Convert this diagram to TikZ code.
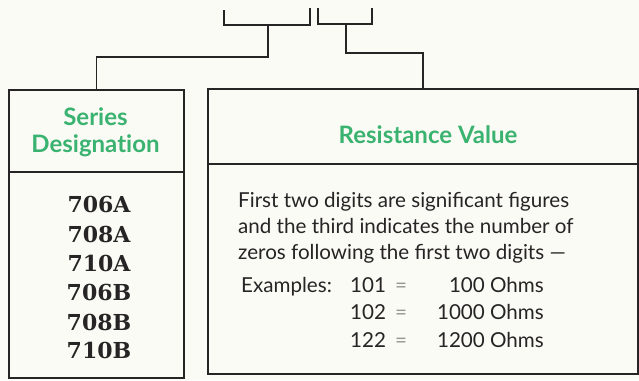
\documentclass[tikz,border=0pt]{standalone}
\usepackage{fontspec}
\setmainfont{DejaVu Serif}
\newfontfamily\headfont[Ligatures=NoCommon]{Lato}
\newfontfamily\bodyfont{Lato}
\definecolor{paper}{RGB}{251,251,245}
\definecolor{ink}{RGB}{38,36,36}
\definecolor{eqgray}{RGB}{150,150,145}
\definecolor{headgreen}{RGB}{58,178,112}
\tikzset{
  box/.style={draw=ink, line width=1.8pt, rectangle, inner sep=0pt, anchor=north west},
  wire/.style={draw=ink, line width=1.8pt},
  headtxt/.style={text=headgreen, font=\headfont\bfseries\fontsize{24}{28}\selectfont, inner sep=0pt, anchor=base},
  codetxt/.style={text=ink, font=\bfseries\fontsize{22}{26}\selectfont, inner sep=0pt, anchor=base},
  bodytxt/.style={text=ink, font=\bodyfont\fontsize{20.6}{24}\selectfont, inner sep=0pt, anchor=base west}
}
\begin{document}
\begin{tikzpicture}[x=1pt,y=-1pt]
\useasboundingbox (0,0) rectangle (639,380);
\fill[paper] (0,0) rectangle (639,380);
% boxes
\node[box, minimum width=175pt, minimum height=82pt] (lhead) at (8,89) {};
\node[box, minimum width=175pt, minimum height=206pt] (lbody) at (8,171) {};
\node[box, minimum width=430pt, minimum height=75pt] (rhead) at (207,88) {};
\node[box, minimum width=430pt, minimum height=210pt] (rbody) at (207,163) {};
% brackets
\coordinate (la) at (224,10);
\coordinate (lb) at (310,8);
\coordinate (ra) at (318,8);
\coordinate (rb) at (372,8);
\draw[wire] (la) -- (224,25) -- (310,25) -- (lb);
\draw[wire] (ra) -- (318,24) -- (372,24) -- (rb);
\coordinate (ls) at (268,25);
\coordinate (rs) at (346,24);
\draw[wire] (ls) -- (268,57) -| (lhead.north);
\draw[wire] (rs) -- (346,53) -| (rhead.north);
% headings
\node[headtxt] (s1) at (95.5,125) {Series};
\node[headtxt] (s2) at (95.5,152) {Designation};
\node[headtxt] (rv) at (428,143) {Resistance Value};
% codes
\node[codetxt] (c1) at (99,212) {706A};
\node[codetxt] (c2) at (99,242) {708A};
\node[codetxt] (c3) at (99,271) {710A};
\node[codetxt] (c4) at (99,300) {706B};
\node[codetxt] (c5) at (99,330) {708B};
\node[codetxt] (c6) at (99,358) {710B};
% body
\node[bodytxt] (b1) at (238,207) {First two digits are significant figures};
\node[bodytxt] (b2) at (238,233) {and the third indicates the number of};
\node[bodytxt] (b3) at (238,259) {zeros following the first two digits —};
\node[bodytxt] (ex) at (241,292) {Examples:};
\node[bodytxt] (e1) at (350,292) {101};
\node[bodytxt] (e2) at (350,319) {102};
\node[bodytxt] (e3) at (350,347) {122};
\node[bodytxt, anchor=base, text=eqgray] (q1) at (401,292) {=};
\node[bodytxt, anchor=base, text=eqgray] (q2) at (401,319) {=};
\node[bodytxt, anchor=base, text=eqgray] (q3) at (401,347) {=};
\node[bodytxt, anchor=base east] (o1) at (544,292) {100 Ohms};
\node[bodytxt, anchor=base east] (o2) at (544,319) {1000 Ohms};
\node[bodytxt, anchor=base east] (o3) at (544,347) {1200 Ohms};
\end{tikzpicture}
\end{document}
